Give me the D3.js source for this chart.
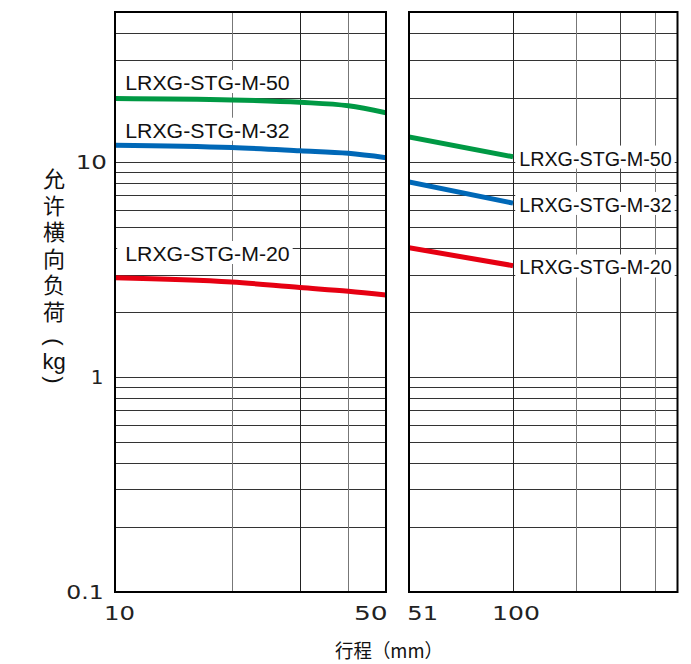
<!DOCTYPE html>
<html><head><meta charset="utf-8">
<script src="https://cdn.jsdelivr.net/npm/d3@7"></script>
<style>html,body{margin:0;padding:0;background:#fff;} svg{display:block;}</style>
</head><body><svg id="chart" width="691" height="664"></svg>
<script>
// ---------------- data ----------------
const strokeLeft = [10, 20, 30, 40, 50];
const strokeRight = [51, 100];
const loadM50Left = [19.8, 19.5, 19.0, 18.3, 17.0];
const loadM32Left = [12.0, 11.7, 11.3, 11.0, 10.5];
const loadM20Left = [2.90, 2.77, 2.61, 2.51, 2.41];
const loadM50Right = [13.1, 10.6];
const loadM32Right = [8.1, 6.45];
const loadM20Right = [4.0, 3.3];
const seriesNames = ["LRXG-STG-M-50", "LRXG-STG-M-32", "LRXG-STG-M-20"];
const yGridValues = [0.2, 0.3, 0.4, 0.5, 0.6, 0.7, 0.8, 0.9, 1, 2, 3, 4, 5, 6, 7, 8, 9, 10, 20, 30, 40];
const leftGridValues = [20, 30, 40];
const rightGridValues = [100, 150, 200, 250];
const yTickValues = [0.1, 1, 10];
const yTickLabels = ["0.1", "1", "10"];
const xTickValuesLeft = [10, 50];
const xTickLabelsLeft = ["10", "50"];
const xTickValuesRight = [51, 100];
const xTickLabelsRight = ["51", "100"];
const yTitle = "允许横向负荷";
const yTitleUnit = "kg";
const xTitle = "行程（mm）";

// ---------------- layout ----------------
const svg = d3.select("#chart");
const plotTop = 12, plotBottom = 592;
const y = d3.scaleLog().domain([0.1, 50]).range([plotBottom, plotTop]);
const xL = d3.scaleLog().domain([10, 50]).range([115, 386]);
const xR = d3.scaleLog().domain([51, 290]).range([409, 677.5]);
const colors = ["#009944", "#0068b7", "#e60012"];
const cjk = "'Noto Sans CJK SC','Noto Sans CJK JP',sans-serif";
const latin = "'Liberation Sans',Arial,sans-serif";
const digits = "'DejaVu Sans',sans-serif";

const defs = svg.append("defs");
function panel(id, xs, gridVals, gridColors) {
  const [x0, x1] = xs.range();
  defs.append("clipPath").attr("id", id).append("rect")
    .attr("x", x0).attr("y", plotTop).attr("width", x1 - x0).attr("height", plotBottom - plotTop);
  const g = svg.append("g");
  const ya = d3.axisLeft(y).tickValues(yGridValues).tickSize(-(x1 - x0)).tickFormat("");
  const gy = g.append("g").attr("transform", `translate(${x0},0)`).call(ya);
  gy.select(".domain").remove();
  gy.selectAll(".tick line").attr("stroke", "#333").attr("stroke-width", 1).attr("shape-rendering", "crispEdges");
  const xa = d3.axisBottom(xs).tickValues(gridVals).tickSize(-(plotBottom - plotTop)).tickFormat("");
  const gx = g.append("g").attr("transform", `translate(0,${plotBottom})`).call(xa);
  gx.select(".domain").remove();
  gx.selectAll(".tick line").attr("stroke", (d, i) => gridColors[i]).attr("stroke-width", 1).attr("shape-rendering", "crispEdges");
  return g;
}
const gL = panel("clipL", xL, leftGridValues, ["#777", "#222", "#777"]);
const gR = panel("clipR", xR, rightGridValues, ["#222", "#777", "#444", "#777"]);

// ---------------- lines ----------------
function drawLines(g, clip, xs, xvals, seriesList) {
  const line = d3.line().x(d => xs(d[0])).y(d => y(d[1])).curve(d3.curveMonotoneX);
  seriesList.forEach((vals, i) => {
    g.append("path").datum(xvals.map((v, j) => [v, vals[j]]))
      .attr("d", line).attr("fill", "none").attr("stroke", colors[i])
      .attr("stroke-width", 5).attr("clip-path", `url(#${clip})`);
  });
}
drawLines(gL, "clipL", xL, strokeLeft, [loadM50Left, loadM32Left, loadM20Left]);
drawLines(gR, "clipR", xR, strokeRight, [loadM50Right, loadM32Right, loadM20Right]);

// ---------------- series labels ----------------
function label(g, text, x, baseline, len, padL) {
  g.append("rect").attr("x", x - padL).attr("y", baseline - 20).attr("width", len + padL + 3).attr("height", 23).attr("fill", "#fff");
  g.append("text").attr("x", x).attr("y", baseline).text(text)
    .attr("font-family", latin).attr("font-size", 20).attr("fill", "#111")
    .attr("textLength", len).attr("lengthAdjust", "spacingAndGlyphs");
}
const leftBaselines = [90, 137.7, 261];
seriesNames.forEach((s, i) => label(gL, s, 125.2, leftBaselines[i], 164.5, 8));
const rightEnds = [loadM50Right, loadM32Right, loadM20Right].map(a => a[a.length - 1]);
seriesNames.forEach((s, i) => label(gR, s, 519.2, y(rightEnds[i]) + 8.8, 152.5, 4));

// ---------------- frames ----------------
[xL, xR].forEach(xs => {
  const [x0, x1] = xs.range();
  svg.append("rect").attr("x", x0).attr("y", plotTop).attr("width", x1 - x0).attr("height", plotBottom - plotTop)
    .attr("fill", "none").attr("stroke", "#000").attr("stroke-width", 2);
});

// ---------------- tick labels ----------------
const tickLen = {"0.1": 37.4, "1": null, "10": 31.3};
const tickX = [103.7, 103.6, 107];
yTickValues.forEach((v, i) => {
  const t = svg.append("text").attr("x", tickX[i]).attr("y", y(v))
    .attr("text-anchor", "end").attr("dominant-baseline", "central")
    .attr("font-family", digits).attr("font-size", 20).attr("fill", "#222").text(yTickLabels[i]);
  if (tickLen[yTickLabels[i]]) t.attr("textLength", tickLen[yTickLabels[i]]).attr("lengthAdjust", "spacingAndGlyphs");
});
function xLabel(text, x, anchor, len) {
  svg.append("text").attr("x", x).attr("y", 620).attr("text-anchor", anchor)
    .attr("font-family", digits).attr("font-size", 20).attr("fill", "#222")
    .attr("textLength", len).attr("lengthAdjust", "spacingAndGlyphs").text(text);
}
xLabel(xTickLabelsLeft[0], xL(xTickValuesLeft[0]) - 11, "start", 31);
xLabel(xTickLabelsLeft[1], xL(xTickValuesLeft[1]) + 1.7, "end", 33.7);
xLabel(xTickLabelsRight[0], xR(xTickValuesRight[0]) - 1.7, "start", 30.7);
xLabel(xTickLabelsRight[1], xR(xTickValuesRight[1]) + 3, "middle", 48);

// ---------------- axis titles ----------------
svg.append("text").attr("x", 335).attr("y", 658).attr("font-family", cjk).attr("font-size", 19)
  .attr("fill", "#111").attr("textLength", 108).attr("lengthAdjust", "spacingAndGlyphs").text(xTitle);

svg.append("text").attr("x", 54).attr("y", 168)
  .attr("writing-mode", "vertical-rl").style("writing-mode", "vertical-rl")
  .attr("letter-spacing", 4.5)
  .attr("font-family", cjk).attr("font-size", 22).attr("fill", "#111").text(yTitle);
svg.append("text").attr("transform", "translate(54,342) rotate(90)").attr("text-anchor", "middle").attr("dominant-baseline", "central")
  .attr("font-family", latin).attr("font-size", 22).attr("fill", "#111").text("(");
svg.append("text").attr("x", 54).attr("y", 361).attr("text-anchor", "middle").attr("dominant-baseline", "central")
  .attr("font-family", latin).attr("font-size", 22).attr("fill", "#111").text(yTitleUnit);
svg.append("text").attr("transform", "translate(54,380) rotate(90)").attr("text-anchor", "middle").attr("dominant-baseline", "central")
  .attr("font-family", latin).attr("font-size", 22).attr("fill", "#111").text(")");
</script>
</body></html>
